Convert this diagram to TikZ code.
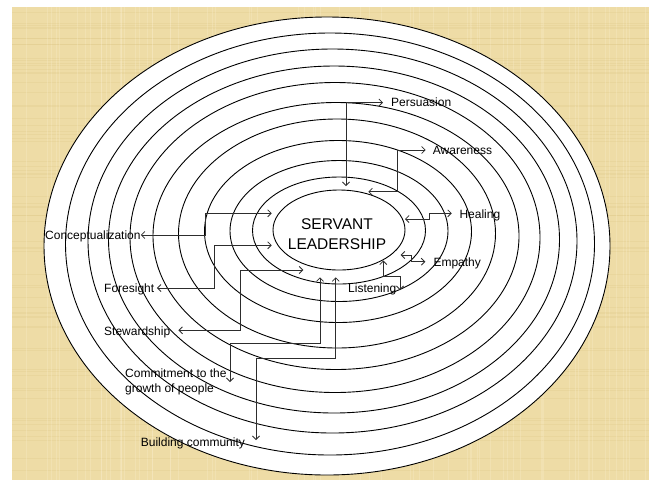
\documentclass[tikz,border=0pt]{standalone}
\usepackage{fontspec}
\setmainfont{Liberation Sans}
\usetikzlibrary{arrows.meta}
\definecolor{parch}{RGB}{238,220,166}
\definecolor{parchdark}{RGB}{214,188,120}
\definecolor{parchlight}{RGB}{248,236,200}
\definecolor{connc}{RGB}{45,45,45}
\begin{document}
\begin{tikzpicture}[x=1pt,y=-1pt,
  ring/.style={draw=black,fill=white,line width=0.9pt},
  conn/.style={draw=connc,line width=0.8pt,>={Straight Barb[length=3.5pt,width=7pt]}},
  lbl/.style={inner sep=0pt,font=\fontsize{12}{15}\selectfont,text=black},
  core/.style={inner sep=0pt,font=\fontsize{15.5}{19.3}\selectfont,align=center}]
\fill[white] (0,0) rectangle (655,480);
\fill[parch] (12,7) rectangle (649,480);
% parchment texture
\pgfmathsetseed{7}
\foreach \i in {1,...,70} {
  \pgfmathsetmacro{\yy}{10+rnd*468}
  \draw[parchdark,opacity=0.18,line width=0.6pt] (12,\yy) -- (649,\yy);
  \pgfmathsetmacro{\xx}{15+rnd*632}
  \draw[parchlight,opacity=0.35,line width=0.8pt] (\xx,7) -- (\xx,480);
}
\useasboundingbox (0,0) rectangle (655,480);
% concentric rings, outer to inner
\foreach \cx/\cy/\rx/\ry in {327/246/283/229, 330/244/264.5/211, 332.5/241/244.5/192,
  334/239.5/225.5/173.5, 335/237.5/205/155, 336/236/183/133.5, 337/233.5/158.5/114.5,
  338/231.5/133.5/91, 339/231/109/70.5, 339/230.5/86.5/53.5, 339/230/66/40}
  \draw[ring] (\cx,\cy) ellipse [x radius=\rx pt, y radius=\ry pt];
% centre text
\node[core] (core) at (337,234.1) {SERVANT\\LEADERSHIP};
% labels
\node[lbl,anchor=base west] (persuasion) at (391,106) {Persuasion};
\node[lbl,anchor=base west] (awareness) at (432.7,154.8) {Awareness};
\node[lbl,anchor=base west] (healing) at (459.3,218.3) {Healing};
\node[lbl,anchor=base west] (empathy) at (433.3,266) {Empathy};
\node[lbl,anchor=base west] (listening) at (348,292.5) {Listening};
\node[lbl,anchor=base west] (concept) at (45,239) {Conceptualization};
\node[lbl,anchor=base west] (foresight) at (104,292.5) {Foresight};
\node[lbl,anchor=base west] (steward) at (104,335) {Stewardship};
\node[lbl,anchor=north west,align=left] (commit) at (125,368.2) {Commitment to the\\growth of people};
\node[lbl,anchor=base west] (building) at (140.7,446) {Building community};
% junctions and free ends
\coordinate (tipP) at (346,186);   \coordinate (jP) at (346,102.5);
\coordinate (tipA) at (368.3,191.7); \coordinate (jA1) at (397.7,191.7); \coordinate (jA2) at (397.7,150);
\coordinate (tipH) at (405,219);   \coordinate (jH1) at (429.3,219); \coordinate (jH2) at (429.3,213.3);
\coordinate (tipE) at (400.7,255); \coordinate (jE1) at (411.7,255); \coordinate (jE2) at (411.7,261.7);
\coordinate (tipL) at (383.3,260.5); \coordinate (jL1) at (383.3,276.7); \coordinate (jL2) at (400,276.7); \coordinate (endL) at (400,290);
\coordinate (tipC) at (271.7,213.3); \coordinate (jC1) at (205.7,213.3); \coordinate (jC2) at (205.7,235);
\coordinate (tipF) at (271.7,245.3); \coordinate (jF1) at (214,245.3); \coordinate (jF2) at (214,288);
\coordinate (tipS) at (303.3,270); \coordinate (jS1) at (240.7,270); \coordinate (jS2) at (240.7,330.3);
\coordinate (tipCm) at (320,277.3); \coordinate (jCm1) at (320,343); \coordinate (jCm2) at (230,343); \coordinate (endCm) at (230,382);
\coordinate (tipB) at (335.7,277.3); \coordinate (jB1) at (335.7,358.7); \coordinate (jB2) at (256,358.7); \coordinate (endB) at (256,440);
% connectors
\draw[conn,<->,shorten >=8pt] (tipP) -- (jP) -- (jP -| persuasion.west);
\draw[conn,<->,shorten >=7pt] (tipA) -- (jA1) -- (jA2) -- (jA2 -| awareness.west);
\draw[conn,<->,shorten >=7.5pt] (tipH) -- (jH1) -- (jH2) -- (jH2 -| healing.west);
\draw[conn,<->,shorten >=8pt] (tipE) -- (jE1) -- (jE2) -- (jE2 -| empathy.west);
\draw[conn,<->] (tipL) -- (jL1) -- (jL2) -- (endL);
\draw[conn,<->] (tipC) -- (jC1) -- (jC2) -- (jC2 -| concept.east);
\draw[conn,<->,shorten >=2.5pt] (tipF) -- (jF1) -- (jF2) -- (jF2 -| foresight.east);
\draw[conn,<->,shorten >=8pt] (tipS) -- (jS1) -- (jS2) -- (jS2 -| steward.east);
\draw[conn,<->] (tipCm) -- (jCm1) -- (jCm2) -- (endCm);
\draw[conn,<->] (tipB) -- (jB1) -- (jB2) -- (endB);
\end{tikzpicture}
\end{document}
